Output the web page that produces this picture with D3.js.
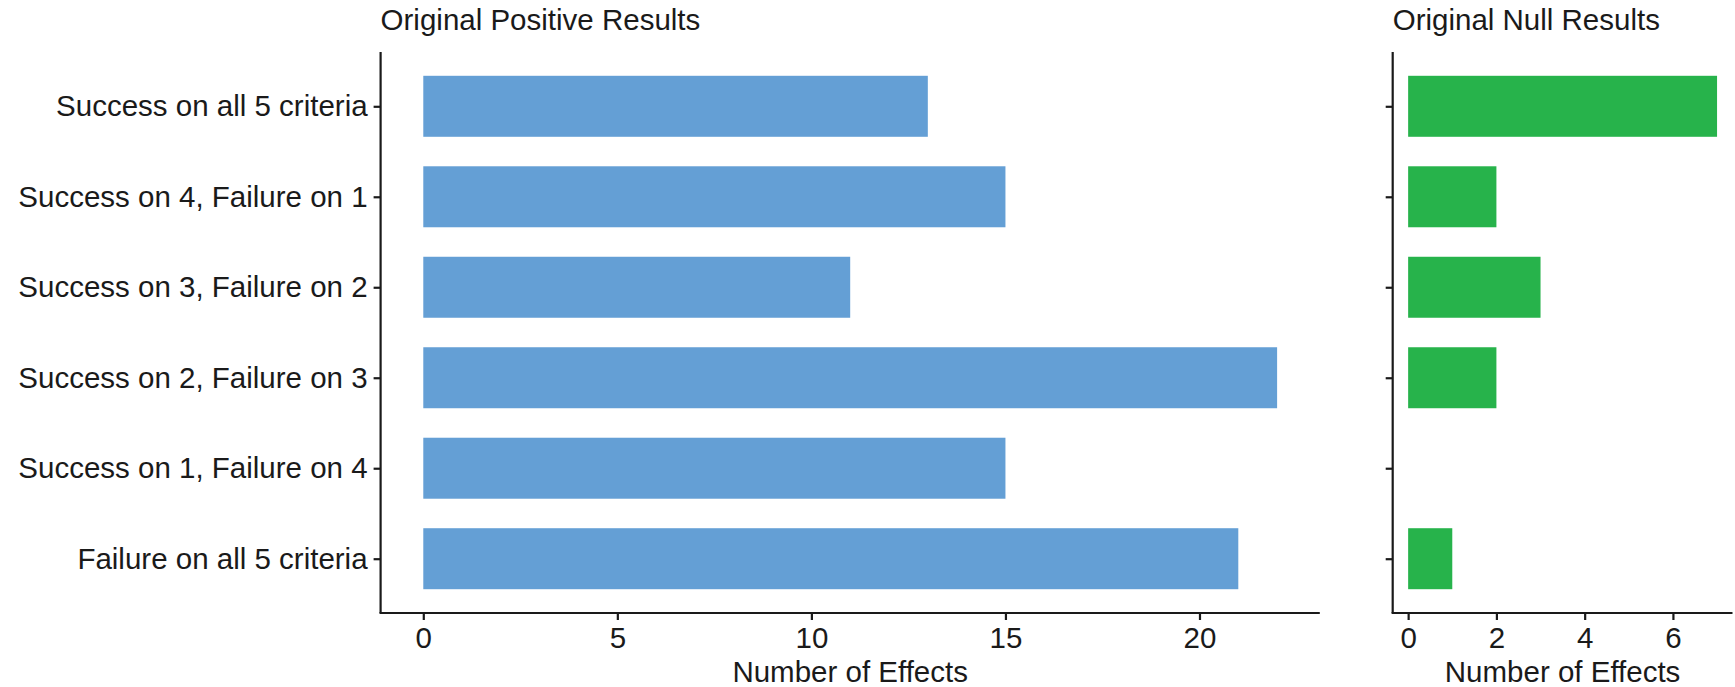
<!DOCTYPE html>
<html>
<head>
<meta charset="utf-8">
<script src="https://cdn.jsdelivr.net/npm/d3@7"></script>
<style>
  html, body { margin: 0; padding: 0; background: #ffffff; }
  svg { display: block; }
  text { font-family: "Liberation Sans", Arial, Helvetica, sans-serif; fill: #1a1a1a; }
</style>
</head>
<body>
<svg id="chart" width="1735" height="687"></svg>
<script>
// ---- data ----
const categories = [
  "Success on all 5 criteria",
  "Success on 4, Failure on 1",
  "Success on 3, Failure on 2",
  "Success on 2, Failure on 3",
  "Success on 1, Failure on 4",
  "Failure on all 5 criteria"
];
const positiveValues = [13, 15, 11, 22, 15, 21];
const nullValues = [7, 2, 3, 2, 0, 1];
const positiveTicks = [0, 5, 10, 15, 20];
const nullTicks = [0, 2, 4, 6];
const panelTitles = ["Original Positive Results", "Original Null Results"];
const xTitle = "Number of Effects";

(function () {
  // ---- layout ----
  const svg = d3.select("#chart");
  const FS = 29.5;
  const plotTop = 52, plotBottom = 613;
  const axisColor = "#1a1a1a";

  const y = d3.scalePoint().domain(categories).range([plotTop, plotBottom]).padding(0.6);
  const barH = y.step() * 0.674;

  function panel(opts) {
    const x = d3.scaleLinear().domain(opts.domain).range(opts.range);
    const g = svg.append("g");

    // bars
    g.selectAll("rect.bar")
      .data(categories.map((c, i) => ({ c, v: opts.values[i] })).filter(d => d.v > 0))
      .enter().append("rect")
      .attr("class", "bar")
      .attr("x", x(0))
      .attr("y", d => y(d.c) - barH / 2)
      .attr("width", d => x(d.v) - x(0))
      .attr("height", barH)
      .attr("fill", opts.color);

    // y axis
    const yAxis = d3.axisLeft(y).tickSize(7).tickPadding(6).tickSizeOuter(0);
    if (!opts.showLabels) yAxis.tickFormat("");
    const ya = g.append("g").attr("transform", `translate(${opts.range[0]},0)`).call(yAxis);
    ya.select(".domain").attr("stroke", axisColor).attr("stroke-width", 2.2)
      .attr("d", `M0,${plotTop}V${plotBottom}`);
    ya.selectAll(".tick line").attr("stroke", axisColor).attr("stroke-width", 2.2);
    ya.selectAll(".tick text").style("font-size", FS + "px")
      .attr("fill", "#1a1a1a")
      .style("font-family", '"Liberation Sans", Arial, sans-serif');

    // x axis
    const xAxis = d3.axisBottom(x).tickValues(opts.ticks).tickSize(7).tickPadding(7).tickSizeOuter(0);
    const xa = g.append("g").attr("transform", `translate(0,${plotBottom})`).call(xAxis);
    xa.select(".domain").attr("stroke", axisColor).attr("stroke-width", 2.2)
      .attr("d", `M${opts.range[0] - 1.1},0H${opts.range[1]}`);
    xa.selectAll(".tick line").attr("stroke", axisColor).attr("stroke-width", 2.2);
    xa.selectAll(".tick text").style("font-size", FS + "px")
      .attr("fill", "#1a1a1a")
      .style("font-family", '"Liberation Sans", Arial, sans-serif');

    // x title
    g.append("text")
      .attr("x", (opts.range[0] + opts.range[1]) / 2)
      .attr("y", 682)
      .attr("text-anchor", "middle")
      .style("font-size", FS + "px")
      .text(xTitle);

    // panel title
    g.append("text")
      .attr("x", opts.range[0])
      .attr("y", 30)
      .attr("text-anchor", "start")
      .style("font-size", FS + "px")
      .text(opts.title);
  }

  panel({
    values: positiveValues, ticks: positiveTicks, domain: [-1.1, 23.1],
    range: [380.6, 1319.8], color: "#649FD5", title: panelTitles[0], showLabels: true
  });
  panel({
    values: nullValues, ticks: nullTicks, domain: [-0.35, 7.35],
    range: [1392.7, 1732.5], color: "#27B34B", title: panelTitles[1], showLabels: false
  });
})();
</script>
</body>
</html>
